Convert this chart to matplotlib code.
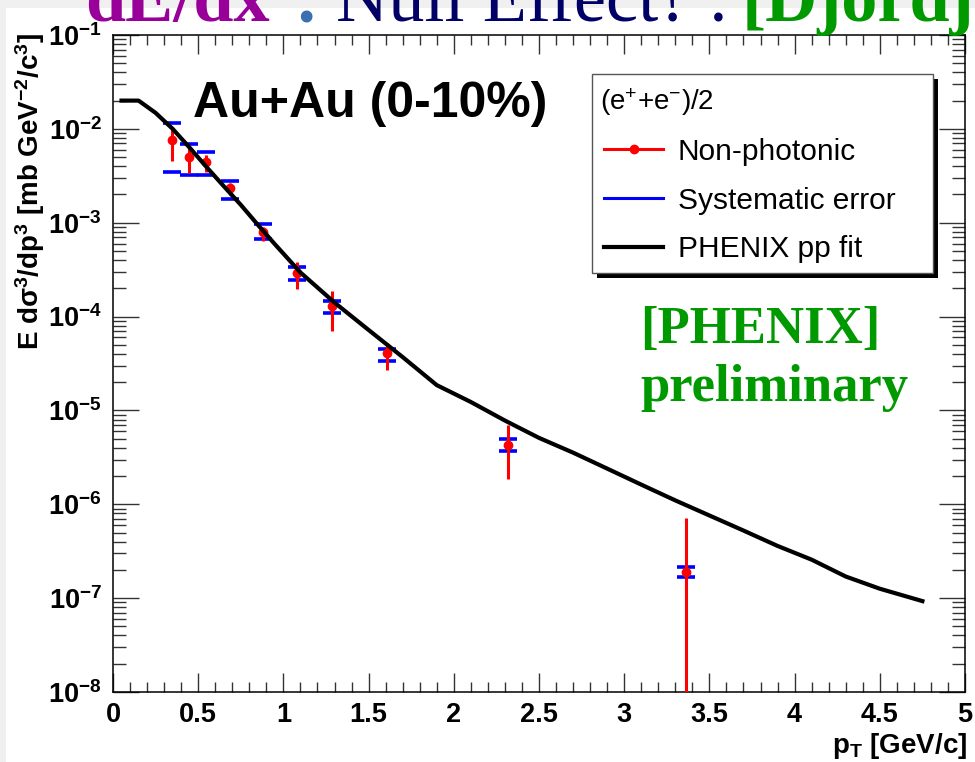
import numpy as np
import matplotlib.pyplot as plt
from matplotlib.patches import Rectangle
from matplotlib.lines import Line2D
from matplotlib.ticker import MultipleLocator, LogLocator, NullFormatter, FuncFormatter

plt.rcParams['font.family'] = ['Liberation Sans', 'DejaVu Sans']
plt.rcParams['font.weight'] = 'bold'
plt.rcParams['axes.labelweight'] = 'bold'
plt.rcParams['axes.unicode_minus'] = False
plt.rcParams['mathtext.default'] = 'regular'

# non-photonic electrons, Au+Au 0-10%
pt = np.array([0.346, 0.446, 0.544, 0.687, 0.878, 1.082, 1.283, 1.610, 2.320, 3.361])
yield_ = np.array([7.6e-3, 5.06e-3, 4.45e-3, 2.33e-3, 8.0e-4, 2.9e-4, 1.3e-4, 4.07e-5, 4.3e-6, 1.92e-7])
stat_hi = np.array([1.02e-2, 6.75e-3, 5.27e-3, 2.63e-3, 9.1e-4, 3.85e-4, 1.89e-4, 5.28e-5, 7.0e-6, 7.1e-7])
stat_lo = np.array([4.5e-3, 3.37e-3, 3.5e-3, 1.98e-3, 6.4e-4, 1.96e-4, 7.1e-5, 2.7e-5, 1.85e-6, 0.0])
sys_hi = np.array([1.16e-2, 6.85e-3, 5.64e-3, 2.8e-3, 9.7e-4, 3.36e-4, 1.48e-4, 4.5e-5, 4.94e-6, 2.14e-7])
sys_lo = np.array([3.5e-3, 3.23e-3, 3.23e-3, 1.79e-3, 6.7e-4, 2.46e-4, 1.1e-4, 3.4e-5, 3.74e-6, 1.7e-7])

# PHENIX pp fit, scaled
fit_pt = np.array([0.05, 0.15, 0.25, 0.35, 0.45, 0.55, 0.65, 0.75, 0.85, 0.95, 1.1, 1.3, 1.5, 1.7,
                   1.9, 2.1, 2.3, 2.5, 2.7, 2.9, 3.1, 3.3, 3.5, 3.7, 3.9, 4.1, 4.3, 4.5, 4.75])
fit_y = np.array([2.0e-2, 2.0e-2, 1.48e-2, 1.0e-2, 6.3e-3, 3.9e-3, 2.45e-3, 1.55e-3, 9.5e-4, 5.9e-4,
                  2.95e-4, 1.41e-4, 7.2e-5, 3.7e-5, 1.86e-5, 1.23e-5, 7.8e-6, 5.1e-6, 3.55e-6,
                  2.4e-6, 1.62e-6, 1.1e-6, 7.6e-7, 5.25e-7, 3.6e-7, 2.57e-7, 1.7e-7, 1.26e-7, 9.3e-8])

legend_labels = ['Non-photonic', 'Systematic error', 'PHENIX pp fit']

W, H = 975, 762


def fx(x):
    return x / W


def fy(y):
    return 1 - y / H


fig = plt.figure(figsize=(W / 100, H / 100), dpi=100, facecolor='#f0f0f0')
fig.patches.append(Rectangle((fx(6), 0), 1 - fx(6), fy(8), transform=fig.transFigure,
                             facecolor='white', edgecolor='none', zorder=-10))

# slide title, cut off at the top
ty = fy(21)
serif = 'Liberation Serif'
fig.text(fx(85), ty, 'dE/dx', family=serif, weight='bold', size=52, color='#990099', va='baseline')
fig.text(fx(294), ty, ':', family=serif, weight='bold', size=52, color='#3a70b0', va='baseline')
fig.text(fx(336), ty, 'Null Effect? :', family=serif, weight='normal', size=52, color='#000066', va='baseline')
fig.text(fx(742), ty, '[Djordjevic]', family=serif, weight='bold', size=52, color='#009900', va='baseline')

ax = fig.add_axes([fx(113), fy(692), fx(965) - fx(113), fy(35) - fy(692)])
ax.set_yscale('log')
ax.set_xlim(0, 5)
ax.set_ylim(1e-8, 1e-1)

cap_w = 0.053
ax.hlines(sys_hi, pt - cap_w, pt + cap_w, colors='blue', lw=2.6, zorder=2)
ax.hlines(sys_lo, pt - cap_w, pt + cap_w, colors='blue', lw=2.6, zorder=2)
ax.errorbar(pt, yield_, yerr=[yield_ - stat_lo, stat_hi - yield_], fmt='o', color='red',
            ms=6, elinewidth=2.2, capsize=0, zorder=3)
ax.plot(fit_pt, fit_y, color='black', lw=3, zorder=4)

ax.xaxis.set_major_locator(MultipleLocator(0.5))
ax.xaxis.set_minor_locator(MultipleLocator(0.1))
ax.xaxis.set_major_formatter(FuncFormatter(lambda v, _: f'{v:g}'))
ax.yaxis.set_major_locator(LogLocator(base=10, numticks=20))
ax.yaxis.set_minor_locator(LogLocator(base=10, subs=np.arange(2, 10), numticks=20))
ax.yaxis.set_minor_formatter(NullFormatter())
ax.tick_params(which='both', direction='in', top=True, right=True, color='#333333', width=1,
               labelsize=19.5)
ax.tick_params(axis='x', which='major', length=13.7, pad=7)
ax.tick_params(axis='x', which='minor', length=7.2)
ax.tick_params(axis='y', which='major', length=18.7, pad=8)
ax.tick_params(axis='y', which='minor', length=9.4)
for s in ax.spines.values():
    s.set_linewidth(1.1)

ax.set_ylabel(r'E d$\sigma^{3}$/dp$^{3}$ [mb GeV$^{-2}$/c$^{3}$]', loc='top', fontsize=20)
ax.yaxis.set_label_coords(-0.0775, 1.003)
ax.set_xlabel(r'p$_{T}$ [GeV/c]', loc='right', fontsize=20)
ax.xaxis.set_label_coords(1.002, -0.06)

fig.text(fx(193), fy(117), 'Au+Au (0-10%)', size=36, weight='bold', va='baseline')
fig.text(fx(640), fy(343), '[PHENIX]', family=serif, weight='bold', size=38, color='#009900', va='baseline')
fig.text(fx(640), fy(401), 'preliminary', family=serif, weight='bold', size=38, color='#009900', va='baseline')

# legend box with drop shadow
bx0, by0, bx1, by1 = 592, 74, 933, 273
fig.patches.append(Rectangle((fx(bx0 + 5), fy(by1 + 5)), (bx1 - bx0) / W, (by1 - by0) / H,
                             transform=fig.transFigure, facecolor='black', edgecolor='none', zorder=5))
fig.patches.append(Rectangle((fx(bx0), fy(by1)), (bx1 - bx0) / W, (by1 - by0) / H,
                             transform=fig.transFigure, facecolor='white', edgecolor='#555555',
                             lw=1, zorder=6))
fig.text(fx(600), fy(110), r'(e$^{+}$+e$^{-}$)/2', size=20, weight='normal', va='baseline', zorder=7)
row_y = [149.3, 198.3, 246.7]
row_styles = [dict(color='red', lw=2.2), dict(color='blue', lw=2.2), dict(color='black', lw=3)]
for yy, lab, st in zip(row_y, legend_labels, row_styles):
    fig.lines.append(Line2D([fx(604), fx(663)], [fy(yy), fy(yy)], transform=fig.transFigure,
                            zorder=7, **st))
    fig.text(fx(678), fy(yy + 10.5), lab, size=21.5, weight='normal', va='baseline', zorder=7)
fig.lines.append(Line2D([fx(633.5)], [fy(row_y[0])], transform=fig.transFigure, marker='o',
                        ms=6, color='red', zorder=8))

fig.savefig('out.png', dpi=100, facecolor=fig.get_facecolor())
